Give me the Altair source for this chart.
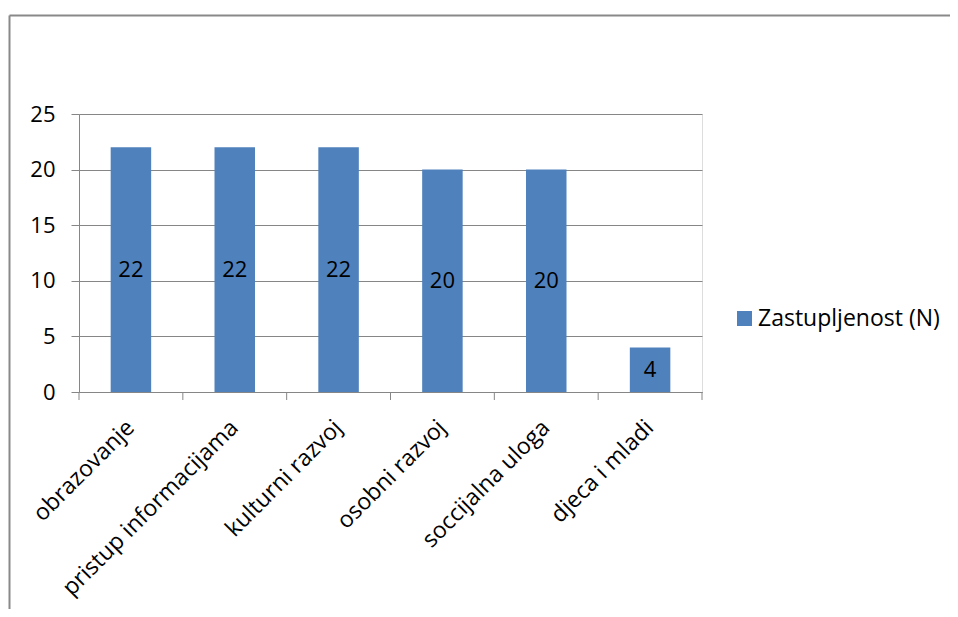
import altair as alt
import pandas as pd

categories = ["obrazovanje", "pristup informacijama", "kulturni razvoj",
              "osobni razvoj", "soccijalna uloga", "djeca i mladi"]
values = [22, 22, 22, 20, 20, 4]
series = "Zastupljenost (N)"
y_ticks = [0, 5, 10, 15, 20, 25]

df = pd.DataFrame({"kategorija": categories, "N": values, "serija": [series] * len(categories)})
df["mid"] = df["N"] / 2
last_df = df.tail(1)
one = pd.DataFrame({"a": [0]})

W, H = 623, 278
FONT = "Open Sans"
GRID = "#868686"
BLUE = "#4F81BD"

xscale = alt.Scale(domain=categories, paddingInner=0, paddingOuter=0)
yscale = alt.Scale(domain=[0, 25], nice=False)

x_axis = alt.Axis(title=None, labelAngle=-45, ticks=False, domainColor=GRID,
                  labelFontSize=23, labelFont=FONT, labelColor="black",
                  labelPadding=24, labelOffset=-8, labelLimit=400, grid=False)
y_axis = alt.Axis(title=None, values=y_ticks, tickSize=8, tickColor=GRID,
                  domainColor=GRID, gridColor=GRID, grid=True, labelFontSize=22,
                  labelFont=FONT, labelColor="black", labelPadding=16)

bars = alt.Chart(df).mark_bar(width=alt.RelativeBandSize(0.39)).encode(
    x=alt.X("kategorija:N", sort=categories, scale=xscale, axis=x_axis),
    y=alt.Y("N:Q", scale=yscale, axis=y_axis),
    color=alt.Color("serija:N", scale=alt.Scale(range=[BLUE]),
                    legend=alt.Legend(title=None, orient="none", legendX=654, legendY=193,
                                      symbolType="square", symbolSize=225,
                                      symbolStrokeWidth=0, symbolOpacity=1,
                                      labelFontSize=23, labelFont=FONT, labelLimit=400,
                                      labelColor="black", labelOffset=2)),
)

labels = alt.Chart(df).mark_text(font=FONT, fontSize=22, color="black", baseline="middle").encode(
    x=alt.X("kategorija:N", sort=categories, scale=xscale),
    y=alt.Y("mid:Q", scale=yscale),
    text=alt.Text("N:Q"),
)

ticks = alt.Chart(df).mark_rule(color=GRID, strokeWidth=1).encode(
    x=alt.X("kategorija:N", sort=categories, scale=xscale, bandPosition=0),
    y=alt.value(H), y2=alt.value(H + 8),
)
tick_end = alt.Chart(last_df).mark_rule(color=GRID, strokeWidth=1).encode(
    x=alt.X("kategorija:N", sort=categories, scale=xscale, bandPosition=1),
    y=alt.value(H), y2=alt.value(H + 8),
)

frame_top = alt.Chart(one).mark_rule(color="#898989", strokeWidth=2).encode(
    x=alt.value(-69.5), x2=alt.value(871), y=alt.value(-98.5)
)
frame_left = alt.Chart(one).mark_rule(color="#898989", strokeWidth=2).encode(
    x=alt.value(-69.5), y=alt.value(-98.5), y2=alt.value(495)
)

chart = alt.layer(bars, labels, ticks, tick_end, frame_top, frame_left).properties(
    width=W, height=H,
    padding={"left": 71, "top": 106, "right": 248, "bottom": 217},
    autosize=alt.AutoSizeParams(type="none"),
).configure_view(stroke=None).configure(background="white")

chart.save("out.html", embed_options={"renderer": "svg", "actions": False})
